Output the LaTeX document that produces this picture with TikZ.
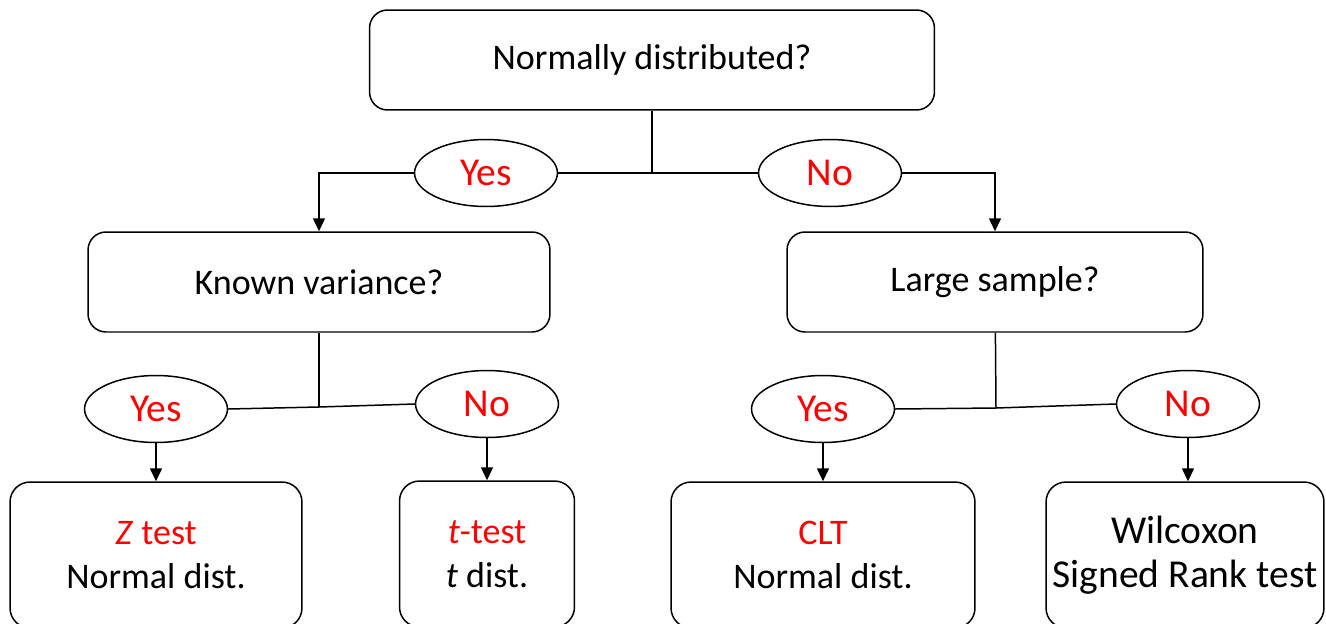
\documentclass[tikz,border=0pt]{standalone}
\usepackage{fontspec}
\setmainfont{Carlito}
\usetikzlibrary{shapes.geometric, arrows.meta, positioning}
\definecolor{colAnswer}{HTML}{FF0000}

\begin{document}
\begin{tikzpicture}[
				x=0.02cm, y=-0.02cm, % one unit = one pixel of the layout
				font=\fontsize{20.5}{25}\selectfont,
				% Node Styles
				base/.style={draw, line width=0.85pt, align=center, inner sep=2pt},
				question/.style={base, rounded corners=0.36cm, minimum height=2cm},
				answer/.style={base, ellipse, text=colAnswer, font=\fontsize{22.5}{27}\selectfont, minimum width=2.86cm, minimum height=1.34cm},
				result/.style={base, rounded corners=0.4cm, minimum height=2.92cm},
				link/.style={line width=0.85pt},
				arrow/.style={link, -{Triangle[width=0.24cm, length=0.26cm]}}
				]
				
				\path[use as bounding box, clip] (0,0) rectangle (1326,623);
				
				%% ================= LEVEL 1 =================
				\node[question, minimum width=11.3cm] (normal) at (652,60) {Normally distributed?};
				\node[answer] (yes1) at (486,173) {Yes};
				\node[answer] (no1) at (830,173) {No};
				
				%% ================= LEVEL 2 =================
				\node[question, minimum width=9.24cm] (variance) at (319,282) {Known variance?};
				\node[question, minimum width=8.32cm] (sample) at (995,282) {Large sample?};
				
				\node[answer] (yes2) at (156,409) {Yes};
				\node[answer] (no2) at (487,404) {No};
				\node[answer] (yes3) at (823,409) {Yes};
				\node[answer] (no3) at (1188,404) {No};
				
				%% ================= RESULTS =================
				\node[result, minimum width=5.84cm] (ztest) at (156,555) {\textcolor{colAnswer}{\textit{Z} test}\\Normal dist.};
				\node[result, minimum width=3.5cm] (ttest) at (487,554) {\textcolor{colAnswer}{\textit{t}-test}\\\textit{t} dist.};
				\node[result, minimum width=6.08cm] (clt) at (823,555) {\textcolor{colAnswer}{CLT}\\Normal dist.};
				\node[result, minimum width=5.56cm, font=\fontsize{22.5}{25}\selectfont] (wilcoxon) at (1185,555) {Wilcoxon\\Signed Rank test};
				
				% Edges Level 1
				\coordinate (j1) at (normal.south |- yes1.east);
				\draw[link] (normal) -- (j1);
				\draw[link] (yes1.east) -- (no1.west);
				\draw[arrow] (yes1.west) -| (variance.north);
				\draw[arrow] (no1.east) -| (sample.north);
				
				% Edges Level 2
				\coordinate (j2) at (319,407);
				\coordinate (j3) at (996,408);
				\draw[link] (variance) -- (j2);
				\draw[link] (yes2.east) -- (j2) -- (no2.west);
				\draw[link] (sample) -- (j3);
				\draw[link] (yes3.east) -- (j3) -- (no3.west);
				
				\draw[arrow] (yes2) -- (ztest);
				\draw[arrow] (no2) -- (ttest);
				\draw[arrow] (yes3) -- (clt);
				\draw[arrow] (no3.south) -- (no3.south |- wilcoxon.north);
				
			\end{tikzpicture}
\end{document}
